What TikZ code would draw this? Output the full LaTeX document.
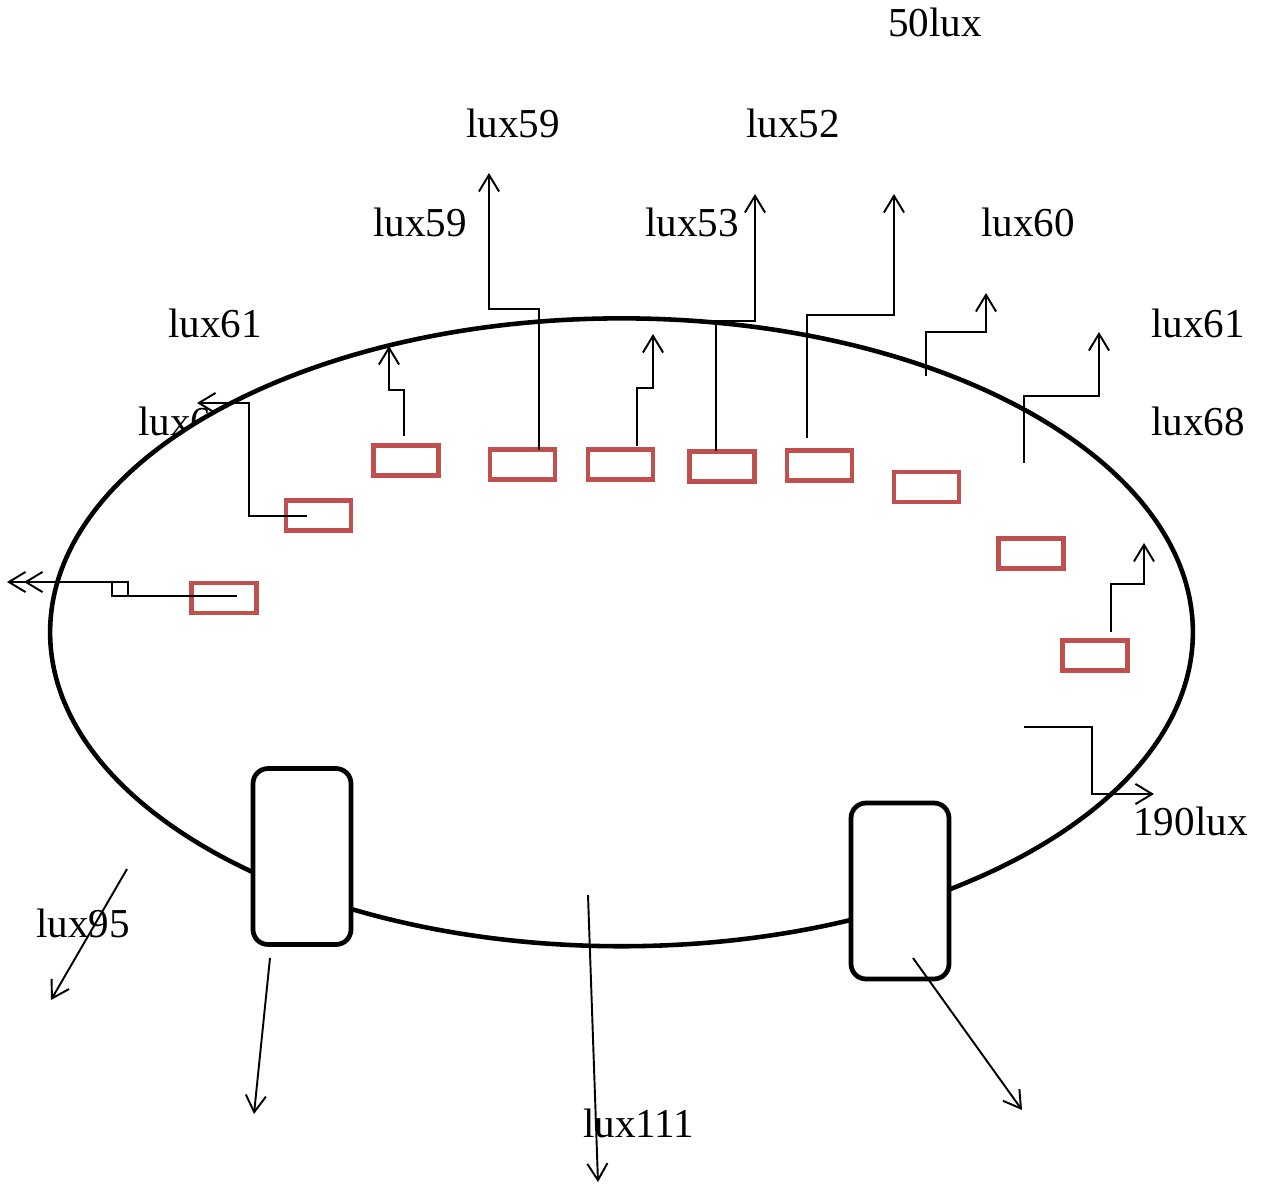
\documentclass[tikz,border=0pt]{standalone}
\usepackage{fontspec}
\setmainfont{Liberation Serif}
\usetikzlibrary{arrows.meta,shapes.geometric}
\definecolor{sensorred}{RGB}{192,80,77}
\begin{document}
\begin{tikzpicture}[x=0.02cm,y=-0.02cm,
  lbl/.style={anchor=base west, inner sep=0pt, font=\fontsize{23.4}{28}\selectfont},
  body/.style={draw=black, line width=2.6pt, fill=white, ellipse, inner sep=0pt},
  sensor/.style={draw=sensorred, line width=2.8pt, fill=white, minimum width=1.3cm, minimum height=0.6cm, inner sep=0pt},
  wheel/.style={draw=black, line width=2.7pt, fill=white, rounded corners=0.3cm, minimum width=1.96cm, minimum height=3.52cm, inner sep=0pt},
  wire/.style={draw=black, line width=1.1pt},
  ray/.style={wire, -{Straight Barb[length=9.5pt,width=11.5pt]}}
]
\useasboundingbox (0,0) rectangle (1262,1187);

% label partly hidden behind the body
\node[lbl] (lA) at (138,435) {lux61};

% robot body
\node[body, minimum width=22.86cm, minimum height=12.56cm] (chassis) at (621.5,632.3) {};

% wheels
\node[wheel] (wl) at (302,856.5) {};
\node[wheel] (wr) at (900,891) {};

% light sensors
\node[sensor] (s1) at (224,598) {};
\node[sensor] (s2) at (318.5,515.5) {};
\node[sensor] (s3) at (406.3,460.5) {};
\node[sensor] (s4) at (522.5,464.5) {};
\node[sensor] (s5) at (620.5,464.5) {};
\node[sensor] (s6) at (722,466.5) {};
\node[sensor] (s7) at (819.5,465.5) {};
\node[sensor] (s8) at (926.5,487) {};
\node[sensor] (s9) at (1030.7,553.8) {};
\node[sensor] (s10) at (1095,655.5) {};

% connector end points
\coordinate (a1) at (237,596);   \coordinate (m1) at (128,582);
\coordinate (b1) at (7,582);     \coordinate (c1) at (24,582);
\coordinate (a2) at (307,516);   \coordinate (b2) at (197,403);
\coordinate (a3) at (404,436);   \coordinate (b3) at (389,346);
\coordinate (a4) at (539,450);   \coordinate (b4) at (489,173);
\coordinate (a5) at (637,446);   \coordinate (b5) at (653,334);
\coordinate (a6) at (716,451);   \coordinate (b6) at (755,194);
\coordinate (a7) at (807,438);   \coordinate (b7) at (894,194);
\coordinate (a8) at (926,376);   \coordinate (b8) at (986,293);
\coordinate (a9) at (1024,463);  \coordinate (b9) at (1099,332);
\coordinate (a10) at (1111,632); \coordinate (b10) at (1144,543);
\coordinate (a11) at (1024,727); \coordinate (b11) at (1154,794);
\coordinate (a12) at (127,869);  \coordinate (b12) at (51,1000);
\coordinate (a13) at (270,958);  \coordinate (b13) at (254,1114);
\coordinate (a14) at (588,895);  \coordinate (b14) at (598,1182);
\coordinate (a15) at (913,958);  \coordinate (b15) at (1022,1110);

% readings leaving the sensors
\draw[wire] (a1) -| ++(-125,-14) -- (m1) -- ++(0,14);
\draw[ray] (m1) -- (b1);
\draw[ray] (m1) -- (c1);
\draw[ray] (a2) -- ++(-58,0) |- (b2);
\draw[ray] (a3) -- ++(0,-46) -| (b3);
\draw[ray] (a4) -- ++(0,-141) -| (b4);
\draw[ray] (a5) -- ++(0,-58) -| (b5);
\draw[ray] (a6) -- ++(0,-130) -| (b6);
\draw[ray] (a7) -- ++(0,-123) -| (b7);
\draw[ray] (a8) -- ++(0,-44) -| (b8);
\draw[ray] (a9) -- ++(0,-67) -| (b9);
\draw[ray] (a10) -- ++(0,-48) -| (b10);
\draw[ray] (a11) -- ++(68,0) |- (b11);
\draw[ray] (a12) -- (b12);
\draw[ray] (a13) -- (b13);
\draw[ray] (a14) -- (b14);
\draw[ray] (a15) -- (b15);

% lux values
\node[lbl] (l50) at (888,36) {50lux};
\node[lbl] (l59a) at (466,137) {lux59};
\node[lbl] (l52) at (746,137) {lux52};
\node[lbl] (l59b) at (373,236) {lux59};
\node[lbl] (l53) at (645,236) {lux53};
\node[lbl] (l60) at (981,236) {lux60};
\node[lbl] (l61a) at (168,337) {lux61};
\node[lbl] (l61b) at (1151,337) {lux61};
\node[lbl] (l68) at (1151,435) {lux68};
\node[lbl] (l190) at (1133,835) {190lux};
\node[lbl] (l95) at (36,937) {lux95};
\node[lbl] (l111) at (583,1137) {lux111};
\end{tikzpicture}
\end{document}
